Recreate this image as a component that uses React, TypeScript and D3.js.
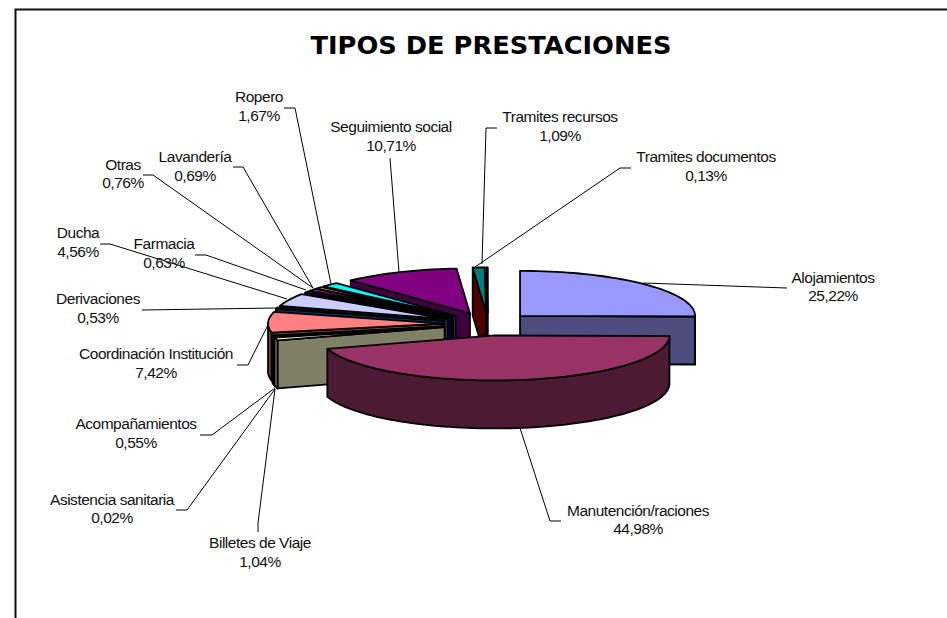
import React from "react";
import * as d3 from "d3";

const categories = ["Alojamientos","Manutención/raciones","Billetes de Viaje","Asistencia sanitaria","Acompañamientos","Coordinación Institución","Derivaciones","Ducha","Farmacia","Otras","Lavandería","Ropero","Seguimiento social","Tramites recursos","Tramites documentos"];
const values = [25.22,44.98,1.04,0.02,0.55,7.42,0.53,4.56,0.63,0.76,0.69,1.67,10.71,1.09,0.13];
const valueLabels = ["25,22%","44,98%","1,04%","0,02%","0,55%","7,42%","0,53%","4,56%","0,63%","0,76%","0,69%","1,67%","10,71%","1,09%","0,13%"];
const topColors = ["#9999FF","#993366","#FFFFCC","#CCFFFF","#660066","#FF8080","#0066CC","#CCCCFF","#000080","#FF00FF","#FFFF00","#00FFFF","#800080","#008080","#008080"];
const sideColors = ["#4D4D80","#4D1A33","#808066","#668080","#330033","#804040","#003366","#666680","#000040","#800080","#808000","#008080","#400040","#4D0000","#004040"];

// layout, index-aligned with categories: label centre x, first baseline, second baseline
const labelX = [833,638,260,112,136,156,98,78,164,123,195,259,391,560,706];
const labelY1 = [283,516,548,505,429,359,304,238,249,170,162,102,132,122,162];
const labelY2 = [301,534,567,523,448,378,323,257,268,188,181,121,151,141,181];
const leaders: number[][][] = [
  [[787,288],[643,283]],
  [[561,521],[550,521],[520,428]],
  [[258,532],[258,523],[275,389]],
  [[176,510],[187,510],[275,389]],
  [[200,435],[212,435],[275,388]],
  [[237,365],[248,365],[269,323]],
  [[142,310],[277,308]],
  [[100,244],[110,244],[287,299]],
  [[195,255],[206,255],[306,290]],
  [[143,175],[153,175],[313,288]],
  [[233,167],[243,167],[313,288]],
  [[284,108],[295,108],[331,284]],
  [[390,158],[399,272]],
  [[497,128],[486,128],[482,264]],
  [[631,168],[620,168],[475,267]],
];

const W = 947, H = 618;
const CX = 488, CY = 324, RX = 175, RY = 45, DEPTH = 48, EXPLODE = 45;
const FONT = "'Liberation Sans', Arial, sans-serif";

const pie = d3.pie<number>().sort(null).startAngle(0).endAngle(2 * Math.PI);
const arcs = pie(values);
const line = d3.line<number[]>().x(p => p[0]).y(p => p[1]);
const DEG = Math.PI / 180;

const sweep = (a0: number, a1: number) => {
  const n = Math.max(1, Math.ceil((a1 - a0) / (2 * DEG)));
  return d3.range(n + 1).map(k => a0 + ((a1 - a0) * k) / n);
};

const wedges = arcs.map((a, i) => {
  const mid = (a.startAngle + a.endAngle) / 2;
  const cx = CX + EXPLODE * Math.sin(mid);
  const cy = CY - (EXPLODE * Math.cos(mid) * RY) / RX;
  const pt = (t: number, dz = 0) => [cx + RX * Math.sin(t), cy - RY * Math.cos(t) + dz];
  const apex = [cx, cy];
  const top = line([apex, ...sweep(a.startAngle, a.endAngle).map(t => pt(t)), apex]) + "Z";
  const face = (t: number) => line([apex, pt(t), pt(t, DEPTH), [cx, cy + DEPTH]]) + "Z";
  const faces: string[] = [];
  if (Math.sin(a.startAngle) < -1e-6) faces.push(face(a.startAngle));
  if (Math.sin(a.endAngle) > 1e-6) faces.push(face(a.endAngle));
  const r0 = Math.max(a.startAngle, Math.PI / 2), r1 = Math.min(a.endAngle, 1.5 * Math.PI);
  let rim: string | null = null;
  if (r1 > r0) {
    const upper = sweep(r0, r1).map(t => pt(t));
    const lower = sweep(r0, r1).reverse().map(t => pt(t, DEPTH));
    rim = line([...upper, ...lower]) + "Z";
  }
  return { i, mid, top, faces, rim };
});
const painted = [...wedges].sort((p, q) => Math.cos(q.mid) - Math.cos(p.mid));

export default function App() {
  return (
    <svg width={W} height={H} style={{ position: "absolute", left: 0, top: 0, display: "block", background: "#fff" }}>
      <path d={`M15.5,${H} L15.5,9.5 L${W},9.5`} fill="none" stroke="#111" strokeWidth={2} />
      <text x={491} y={53.5} textAnchor="middle" textLength={361} lengthAdjust="spacingAndGlyphs"
        fontFamily="'DejaVu Sans', Verdana, sans-serif" fontWeight={700} fontSize={24} fill="#000">TIPOS DE PRESTACIONES</text>
      {painted.map(w => (
        <g key={w.i} stroke="#000" strokeWidth={1.8} strokeLinejoin="round">
          {w.faces.map((d, k) => <path key={k} d={d} fill={sideColors[w.i]} />)}
          {w.rim && <path d={w.rim} fill={sideColors[w.i]} />}
          <path d={w.top} fill={topColors[w.i]} />
        </g>
      ))}
      {leaders.map((pts, i) => <path key={i} d={line(pts) as string} fill="none" stroke="#000" strokeWidth={1} />)}
      <g fontFamily={FONT} fontSize={15.5} letterSpacing={-0.48} fill="#111" textAnchor="middle">
        {categories.map((c, i) => (
          <g key={c}>
            <text x={labelX[i]} y={labelY1[i]}>{c}</text>
            <text x={labelX[i]} y={labelY2[i]}>{valueLabels[i]}</text>
          </g>
        ))}
      </g>
    </svg>
  );
}
